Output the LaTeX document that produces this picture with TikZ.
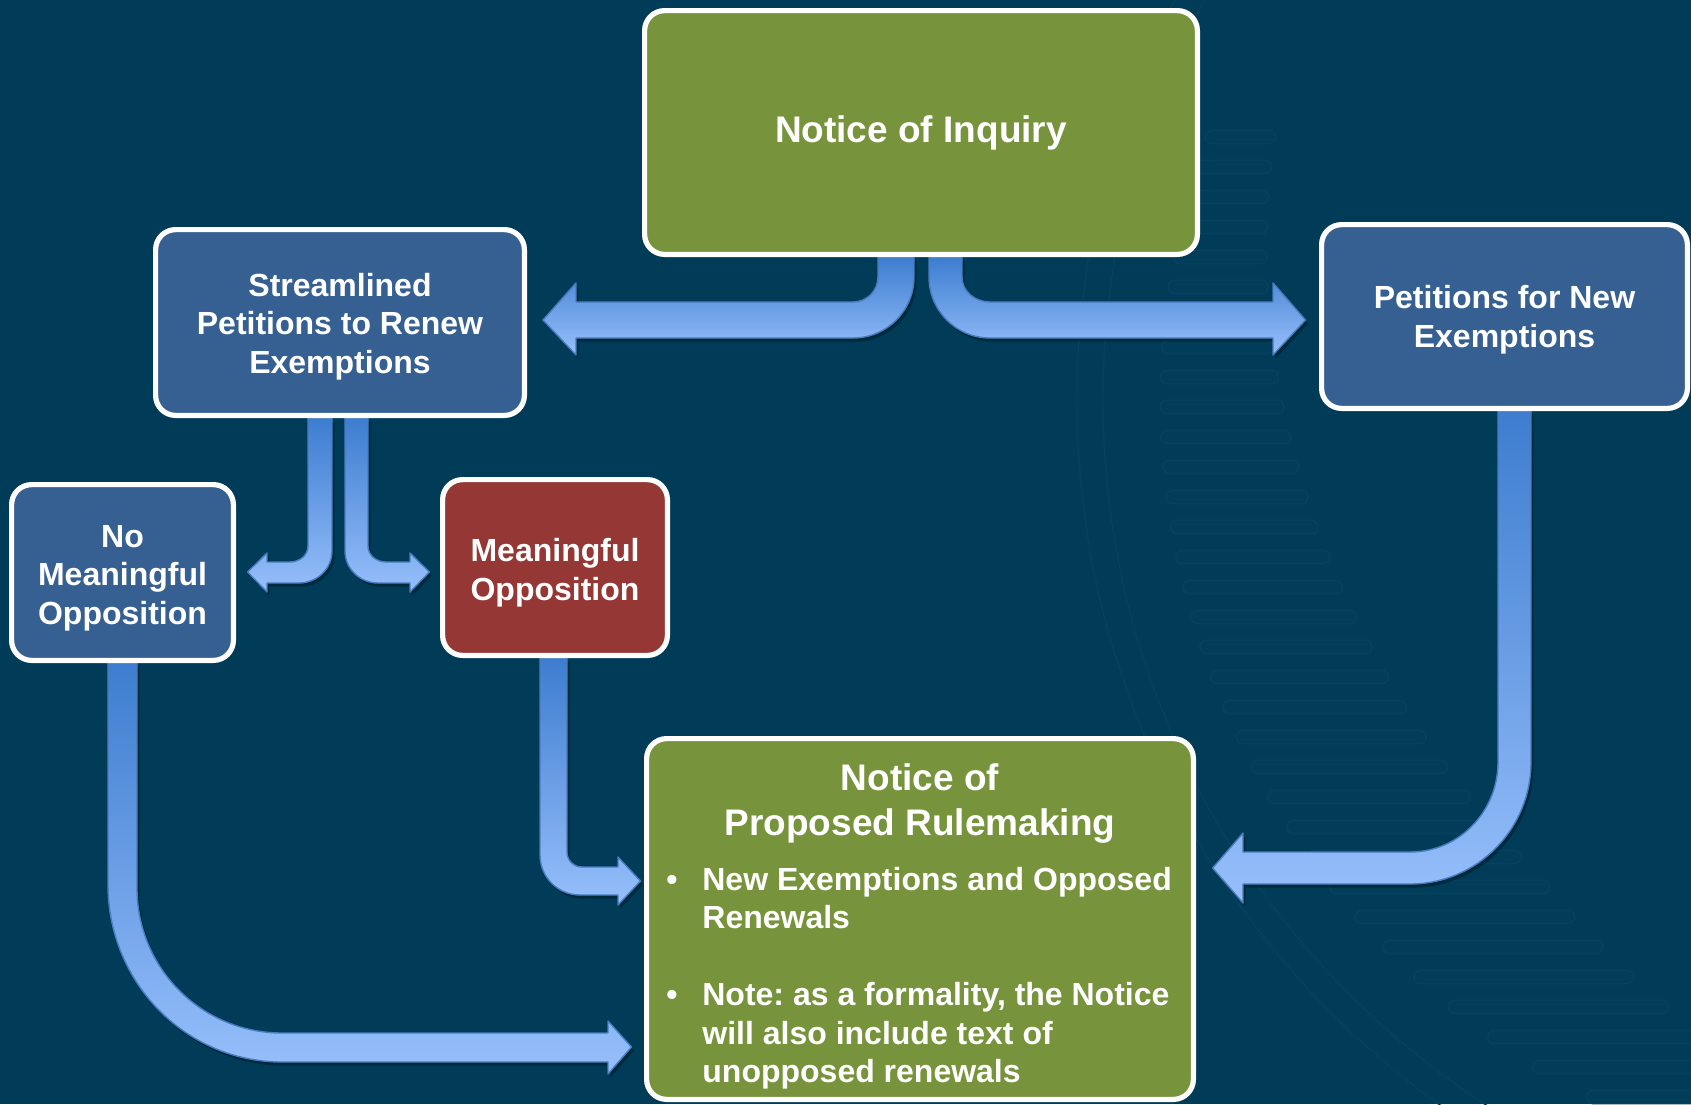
\documentclass[tikz,border=0pt]{standalone}
\usepackage{fontspec}
\setmainfont{Liberation Sans}
\frenchspacing
\usetikzlibrary{calc}
\pgfdeclarelayer{back}
\pgfdeclarelayer{arrows}
\pgfsetlayers{back,arrows,main}
\definecolor{bg}{HTML}{003B57}
\definecolor{boxblue}{HTML}{376092}
\definecolor{boxgreen}{HTML}{77933C}
\definecolor{boxred}{HTML}{953735}
\definecolor{arrtop}{HTML}{3D7DCF}
\definecolor{arrbot}{HTML}{97BFFB}
\definecolor{arredge}{HTML}{4A7CC0}
\definecolor{sealline}{HTML}{06425F}
\definecolor{sealfill}{HTML}{013C59}
\begin{document}
\begin{tikzpicture}[x=0.5pt,y=-0.5pt,
  box/.style={draw=white, line width=2.6pt, rounded corners=10pt, inner sep=0pt},
  boxtext/.style={text=white, inner sep=0pt, align=center, font=\bfseries\fontsize{16}{19.25}\selectfont},
  flow/.style={top color=arrtop, bottom color=arrbot, draw=arredge, line width=0.7pt, line join=round,
    preaction={fill=black, fill opacity=0.3, draw=none, transform canvas={xshift=1.2pt,yshift=-1.8pt}}},
  sealbar/.style={draw=sealline, fill=sealfill, line width=0.8pt, rounded corners=3.2pt},
  txt/.style={text=white, inner sep=0pt}]
\useasboundingbox (0,0) rectangle (1691,1104);

% boxes
\node[box, fill=boxgreen, minimum width=276.4pt, minimum height=121.9pt] (noi) at (921,132.5) {};
\node[box, fill=boxblue, minimum width=184.4pt, minimum height=92.9pt] (str) at (340,322.5) {};
\node[box, fill=boxblue, minimum width=182.9pt, minimum height=91.9pt] (pnew) at (1504.5,316.5) {};
\node[box, fill=boxblue, minimum width=110.9pt, minimum height=87.9pt] (nomo) at (122.5,572.5) {};
\node[box, fill=boxred, minimum width=112.4pt, minimum height=87.9pt] (mo) at (555,567.5) {};
\node[box, fill=boxgreen, minimum width=273.4pt, minimum height=180.4pt] (nprm) at (920,919) {};

% box texts
\node[boxtext, font=\bfseries\fontsize{18.5}{22.5}\selectfont] (noitext) at (noi.center) {Notice of Inquiry};
\node[boxtext] (strtext) at ([yshift=-2pt]str.center) {Streamlined\\Petitions to Renew\\Exemptions};
\node[boxtext] (pnewtext) at ([yshift=-1.5pt]pnew.center) {Petitions for New\\Exemptions};
\node[boxtext] (nomotext) at ([yshift=-2.75pt]nomo.center) {No\\Meaningful\\Opposition};
\node[boxtext] (motext) at ([yshift=-2.5pt]mo.center) {Meaningful\\Opposition};
\node[txt, font=\bfseries\fontsize{18.5}{22.5}\selectfont, align=center, anchor=north] (nprmtitle)
      at (920,763) {Notice of\\Proposed Rulemaking};
\node[txt, font=\bfseries\fontsize{16}{19.25}\selectfont, anchor=base west] (nprmlist) at (666,890)
      {\begin{tabular}[t]{@{}l@{}l@{}}
        \makebox[18pt][l]{•} & New Exemptions and Opposed\\
                             & Renewals\\[19.25pt]
        \makebox[18pt][l]{•} & Note: as a formality, the Notice\\
                             & will also include text of\\
                             & unopposed renewals
       \end{tabular}};

% arrow tips
\coordinate (tA) at ($(str.east)+(16,-2.5)$);
\coordinate (tB) at ($(pnew.west)+(-13.5,3.5)$);
\coordinate (tC) at ($(nomo.east)+(11.6,-0.5)$);
\coordinate (tD) at ($(mo.west)+(-10.6,4.5)$);
\coordinate (tE) at ($(nprm.west |- 0,881)+(-3.5,0)$);
\coordinate (tF) at ($(nprm.west |- 0,1047)+(-12.5,0)$);
\coordinate (tG) at ($(nprm.east |- 0,868)+(16.6,0)$);

\begin{pgfonlayer}{back}
\fill[bg] (0,0) rectangle (1691,1104);
\begin{scope}
\clip (0,0) rectangle (1691,1104);
\draw[sealline, line width=0.7pt] (1943,400) circle[radius=420pt];
\draw[sealline, line width=0.7pt] (1943,400) circle[radius=433pt];
\foreach \i in {0,...,32}{
  \pgfmathsetmacro\yy{137+30*\i}
  \pgfmathsetmacro\dy{(\yy-400)/100}
  \pgfmathsetmacro\xl{1943-100*sqrt(61.3089-\dy*\dy)}
  \pgfmathsetmacro\len{min(220,70+0.2*(\yy-137))}
  \path[sealbar] (\xl,\yy-6.5) rectangle ++(\len,13);
}
\end{scope}
\end{pgfonlayer}

\begin{pgfonlayer}{arrows}
% Notice of Inquiry -> Streamlined
\path[flow] (914,0 |- noi.south) -- (914,277) to[out=270,in=0] (853,338) -- (576,338) -- (576,355)
  -- (tA) -- (576,283) -- (576,302) -- (853,302) to[out=0,in=270] (878,277) -- (878,0 |- noi.south) -- cycle;
% Notice of Inquiry -> Petitions for New
\path[flow] (929,0 |- noi.south) -- (929,277) to[out=270,in=180] (990,338) -- (1273,338) -- (1273,355)
  -- (tB) -- (1273,283) -- (1273,302) -- (990,302) to[out=180,in=270] (962,277) -- (962,0 |- noi.south) -- cycle;
% Streamlined -> No Meaningful
\path[flow] (308,0 |- str.south) -- (308,546) to[out=270,in=0] (290,562) -- (267,562) -- (267,553)
  -- (tC) -- (267,592) -- (267,583) -- (299,583) to[out=0,in=270] (332,551) -- (332,0 |- str.south) -- cycle;
% Streamlined -> Meaningful
\path[flow] (345,0 |- str.south) -- (345,551) to[out=270,in=180] (378,583) -- (410,583) -- (410,592)
  -- (tD) -- (410,553) -- (410,562) -- (386,562) to[out=180,in=270] (368,546) -- (368,0 |- str.south) -- cycle;
% Meaningful -> NPRM
\path[flow] (540,0 |- mo.south) -- (540,855) to[out=270,in=180] (580,895) -- (618,895) -- (618,905)
  -- (tE) -- (618,857) -- (618,867) -- (582,867) to[out=180,in=270] (567,852) -- (567,0 |- mo.south) -- cycle;
% No Meaningful -> NPRM
\path[flow] (108,0 |- nomo.south) -- (108,885) to[out=270,in=180] (282,1062) -- (608,1062) -- (608,1074)
  -- (tF) -- (608,1021) -- (608,1033) -- (282,1033) to[out=180,in=270] (137,888) -- (137,0 |- nomo.south) -- cycle;
% Petitions for New -> NPRM
\path[flow] (1531,0 |- pnew.south) -- (1531,762) to[out=270,in=0] (1410,884) -- (1243,884) -- (1243,903)
  -- (tG) -- (1243,833) -- (1243,852) -- (1410,852) to[out=0,in=270] (1498,762) -- (1498,0 |- pnew.south) -- cycle;
\end{pgfonlayer}
\end{tikzpicture}
\end{document}
